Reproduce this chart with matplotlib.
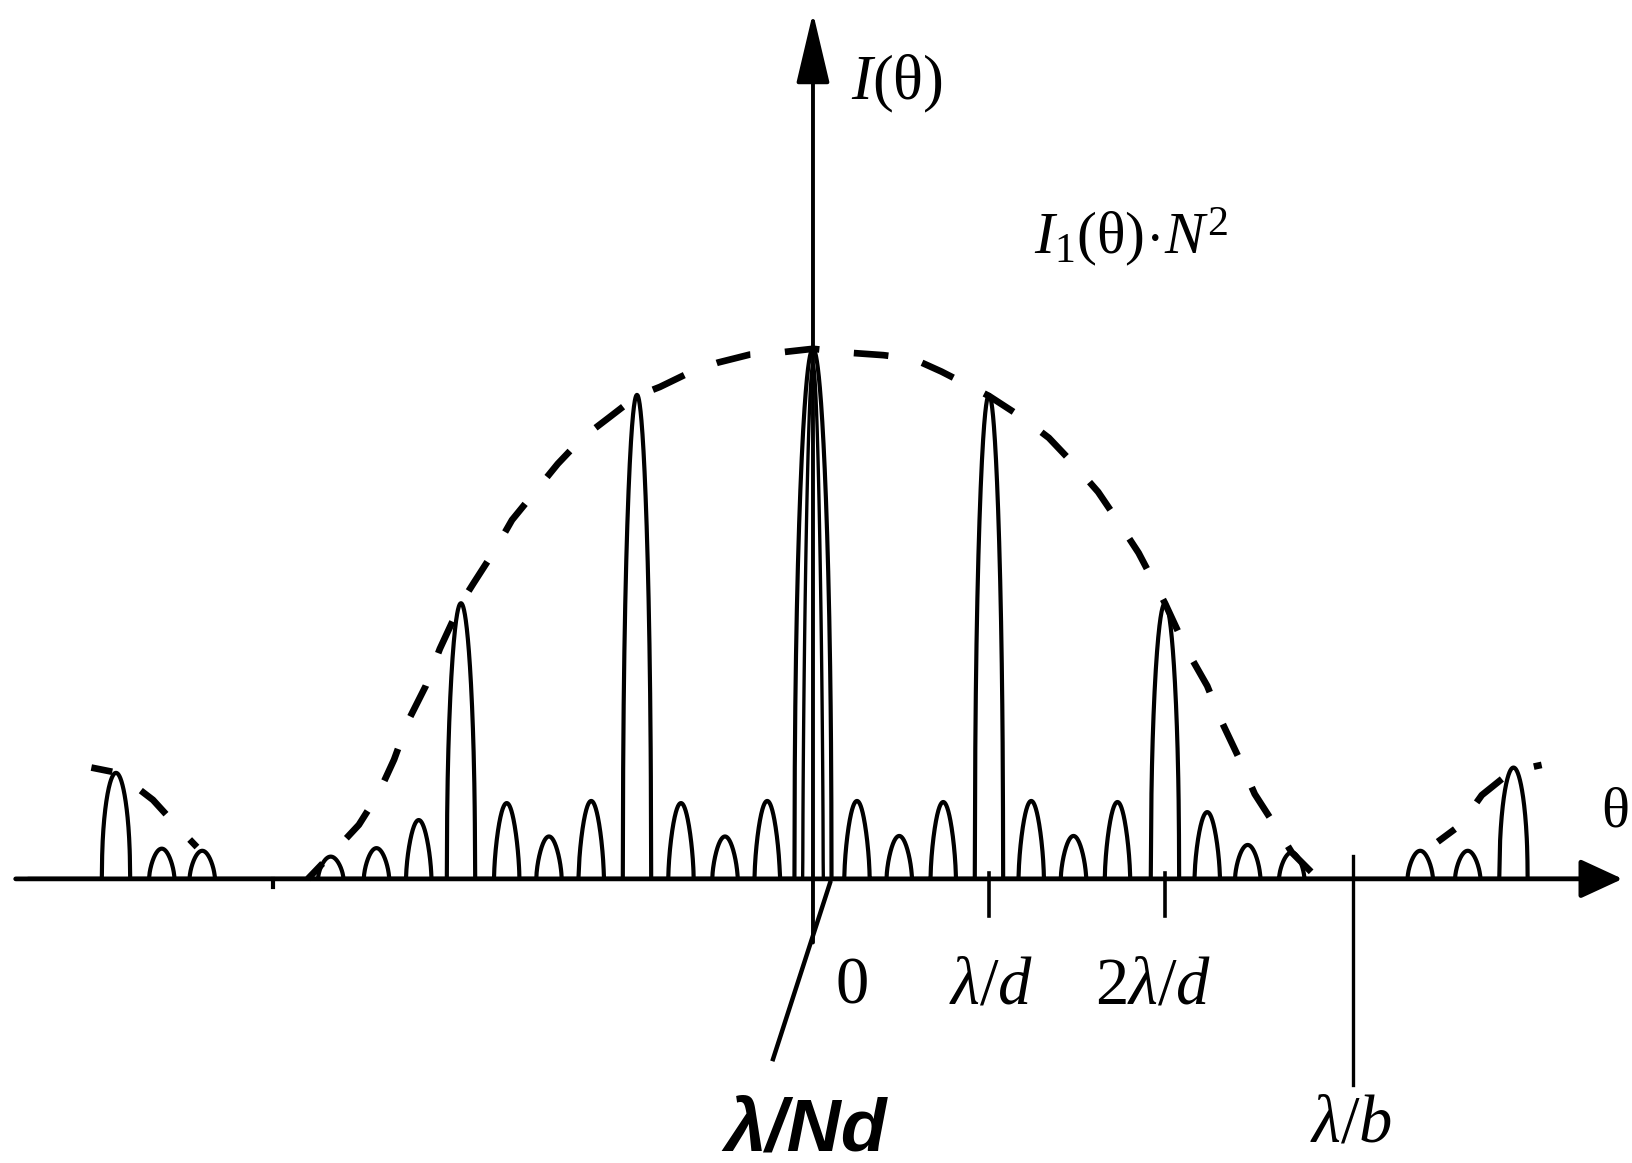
import numpy as np
import matplotlib
matplotlib.use("Agg")
import matplotlib.pyplot as plt

plt.rcParams["mathtext.fontset"] = "custom"
plt.rcParams["mathtext.rm"] = "Liberation Serif"
plt.rcParams["mathtext.it"] = "Liberation Serif:italic"
plt.rcParams["mathtext.bf"] = "Liberation Serif:bold"

# Angle in units of lambda/d, intensity relative to the central maximum.
# Principal maxima of the grating
principal_theta = [-3.96, -2.0, -1.0, 0.0, 1.0, 2.0, 3.98]
principal_I = [0.20, 0.52, 0.913, 1.0, 0.913, 0.52, 0.21]

# Secondary maxima between the principal orders
secondary_theta = [-3.70, -3.47, -2.74, -2.48, -2.24, -1.74, -1.50, -1.26,
                   -0.75, -0.50, -0.26, 0.25, 0.49, 0.74, 1.24, 1.48, 1.73,
                   2.24, 2.47, 2.72, 3.45, 3.72]
secondary_I = [0.057, 0.053, 0.042, 0.058, 0.111, 0.143, 0.080, 0.147,
               0.143, 0.080, 0.147, 0.147, 0.081, 0.145, 0.147, 0.081, 0.145,
               0.126, 0.064, 0.050, 0.053, 0.053]

# Single-slit envelope I1(theta)*N^2: central lobe
envelope_theta = [-2.87, -2.74, -2.58, -2.47, -2.38, -2.30, -2.20, -2.12,
                  -2.00, -1.93, -1.81, -1.71, -1.57, -1.45, -1.31, -1.16,
                  -1.00, -0.87, -0.69, -0.54, -0.36, -0.19, 0.00, 0.23,
                  0.40, 0.57, 0.73, 0.90, 1.00, 1.19, 1.34, 1.48, 1.62,
                  1.72, 1.85, 2.00, 2.12, 2.24, 2.32, 2.42, 2.51, 2.63,
                  2.72, 2.87]
envelope_I = [0.000, 0.045, 0.102, 0.160, 0.225, 0.298, 0.364, 0.434,
              0.520, 0.557, 0.619, 0.677, 0.734, 0.783, 0.832, 0.870,
              0.911, 0.928, 0.957, 0.974, 0.989, 0.993, 1.000, 0.992,
              0.988, 0.981, 0.957, 0.928, 0.911, 0.870, 0.832, 0.783, 0.730,
              0.681, 0.615, 0.520, 0.434, 0.364, 0.298, 0.228, 0.160, 0.098,
              0.050, 0.000]

# Envelope side lobes beyond lambda/b
left_lobe_theta = [-4.10, -3.95, -3.75, -3.61, -3.50]
left_lobe_I = [0.210, 0.200, 0.149, 0.098, 0.060]
right_lobe_theta = [3.55, 3.68, 3.80, 3.92, 4.00, 4.14]
right_lobe_I = [0.070, 0.102, 0.158, 0.190, 0.205, 0.215]

# Axis marks
tick_theta = [1.0, 2.0]
tick_labels = [r"$\lambda/d$", r"$2\lambda/d$"]
slit_theta = 3.07


def arches(t, centres, heights, half_width, power):
    """Envelope of rounded bumps sitting on the baseline."""
    c = np.asarray(centres, float)[None, :]
    h = np.asarray(heights, float)[None, :]
    hw = np.broadcast_to(np.asarray(half_width, float), c.shape[1:])[None, :]
    u = (t[:, None] - c) / hw
    s = np.where(np.abs(u) < 1, np.clip(np.cos(np.pi * u / 2), 0, None), 0.0)
    return (h * s ** power).max(axis=1)


fig = plt.figure(figsize=(16.33, 11.63), dpi=100)
ax = fig.add_axes([0, 0, 1, 1])
ax.set_xlim(-4.619, 4.659)
ax.set_ylim(-0.536, 1.658)
ax.axis("off")

t = np.linspace(-4.45, 4.45, 9000)
p_theta = np.array(principal_theta)
p_hw = np.where(p_theta == 0, 0.105, 0.08)
y_main = np.maximum(
    arches(t, principal_theta, principal_I, p_hw, 0.42),
    arches(t, secondary_theta, secondary_I, 0.072, 0.6),
)
ax.plot(t, y_main, color="black", lw=3.0, solid_joinstyle="round", zorder=3)

# inner outline of the central maximum
tc = t[np.abs(t) < 0.06]
ax.plot(tc, arches(tc, [0.0], [0.97], 0.058, 0.6), color="black", lw=2.4, zorder=3)

# dashed single-slit envelope
dash = dict(color="black", lw=4.8, linestyle=(2, (5.2, 5.2)), dash_capstyle="butt")
ax.plot(envelope_theta, envelope_I, **dash, zorder=2)
ax.plot(left_lobe_theta, left_lobe_I, **dash, zorder=2)
ax.plot(right_lobe_theta, right_lobe_I, **dash, zorder=2)

# axes with arrow heads
ax.annotate("", xy=(4.60, 0.0), xytext=(-4.53, 0.0),
            arrowprops=dict(arrowstyle="-|>,head_length=0.65,head_width=0.3",
                            lw=3.4, color="black", mutation_scale=40,
                            shrinkA=0, shrinkB=0), zorder=4)
ax.annotate("", xy=(0.0, 1.634), xytext=(0.0, -0.12),
            arrowprops=dict(arrowstyle="-|>,head_length=1.1,head_width=0.26",
                            lw=2.8, color="black", mutation_scale=40,
                            shrinkA=0, shrinkB=0), zorder=4)

# tick marks
for th in tick_theta:
    ax.plot([th, th], [0.012, -0.07], color="black", lw=2.6, zorder=4)
ax.plot([slit_theta, slit_theta], [0.043, -0.389], color="black", lw=2.4, zorder=4)
ax.plot([-slit_theta, -slit_theta], [0.0, -0.015], color="black", lw=3.0, zorder=4)

# pointer to the width of the central maximum
ax.plot([0.097, -0.227], [-0.0075, -0.34], color="black", lw=3.2, zorder=4)

serif = dict(color="black", ha="center", va="center")
ax.text(0.22, -0.204, "0", fontsize=48, family="Liberation Serif", **serif)
for th, lab in zip(tick_theta, tick_labels):
    ax.text(th + (0.01 if th == 1 else -0.07), -0.20, lab, fontsize=48, **serif)
ax.text(slit_theta - 0.01, -0.46, r"$\lambda/b$", fontsize=48, **serif)
ax.text(4.557, 0.13, r"$\mathrm{\theta}$", fontsize=42, **serif)
ax.text(0.48, 1.50, r"$I(\mathrm{\theta})$", fontsize=45, **serif)
ax.text(1.81, 1.21, r"$I_1(\mathrm{\theta})\!\cdot\! N^2$", fontsize=43, **serif)
ax.text(-0.04, -0.475, "λ/Nd", fontsize=54, family="Liberation Sans",
        weight="bold", style="italic", **serif)

fig.savefig("out.png", dpi=100, facecolor="white")
